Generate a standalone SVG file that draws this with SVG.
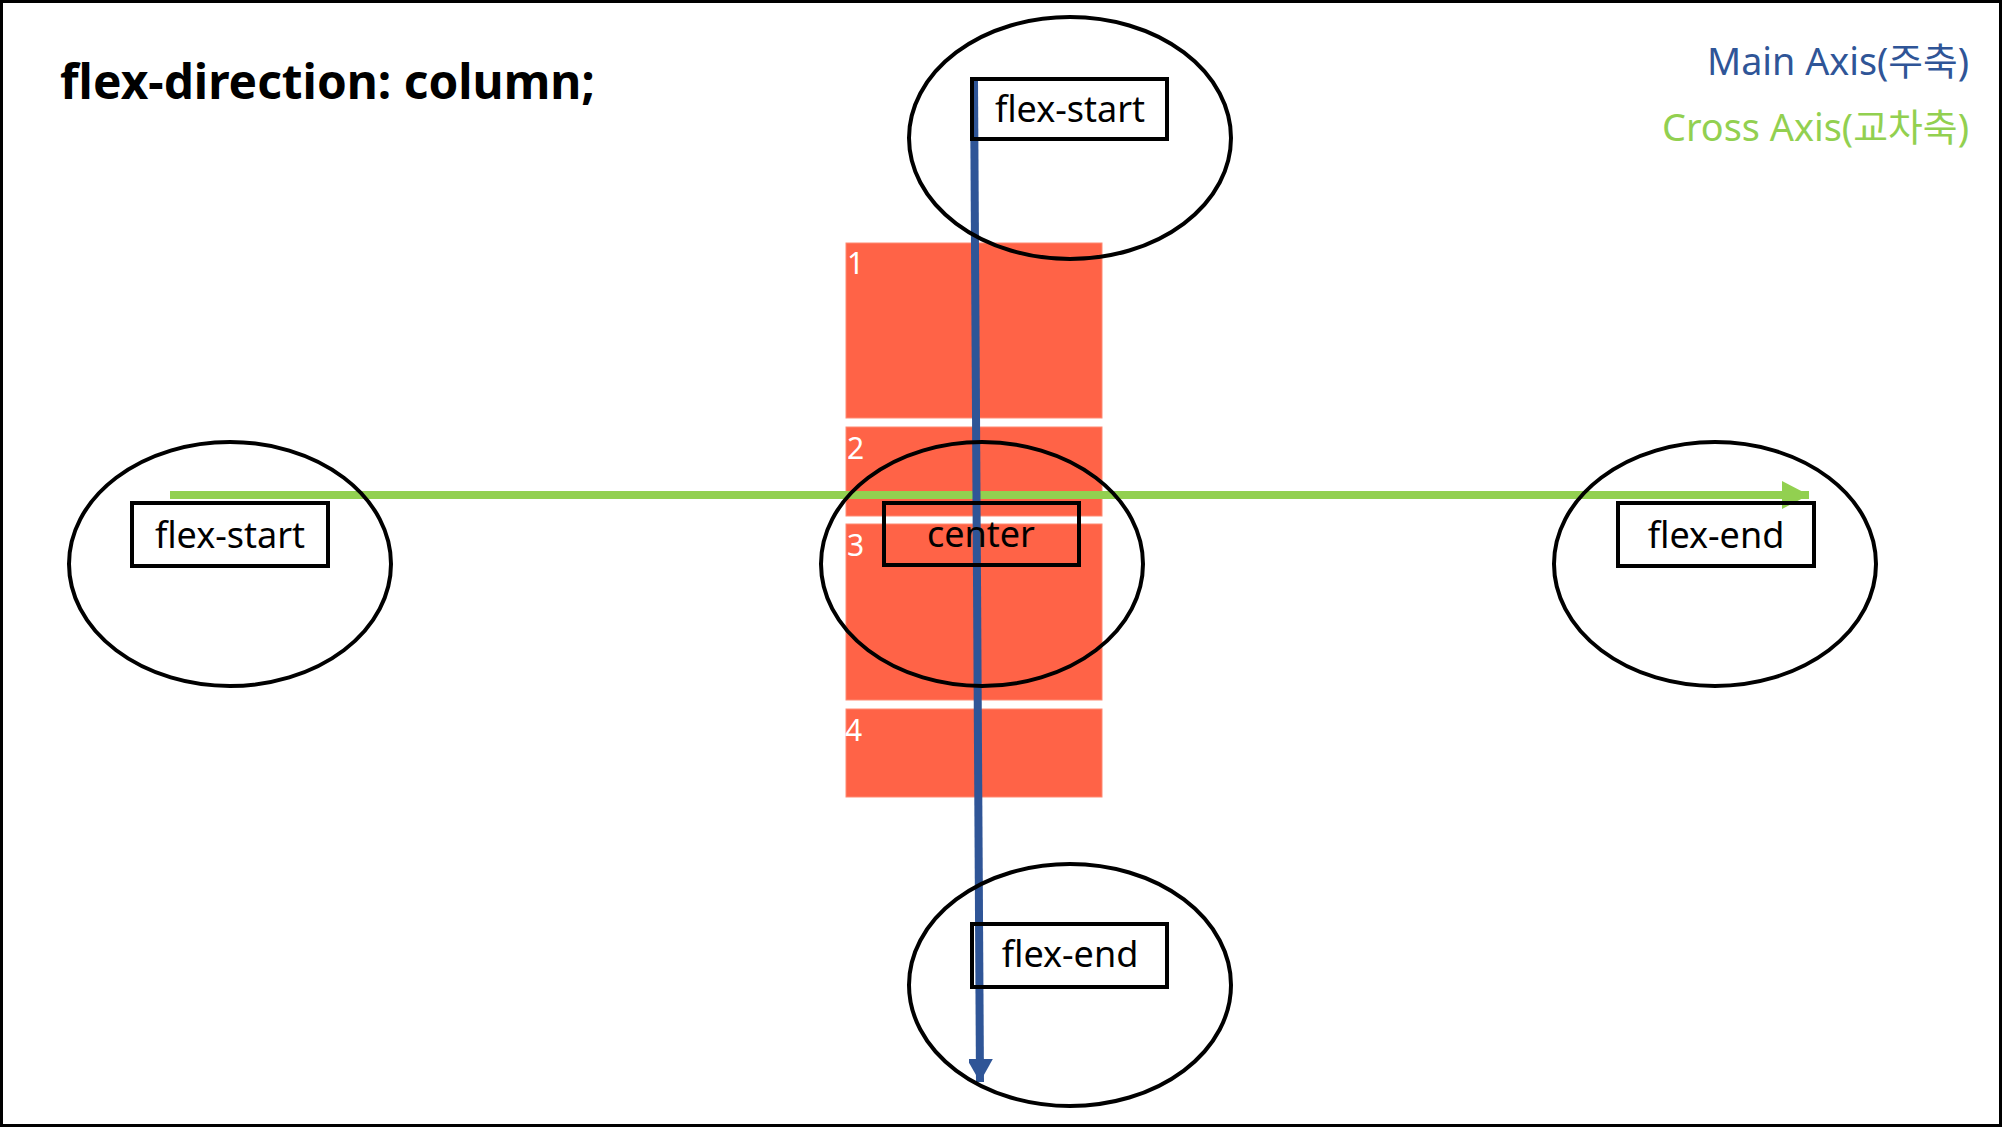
<svg xmlns="http://www.w3.org/2000/svg" width="2002" height="1127" viewBox="0 0 2002 1127">
<style>
.box{fill:#FF6347;stroke:#FF8A73;stroke-width:1}
.num{font-family:"Noto Sans","Liberation Sans",sans-serif;font-size:30px;fill:#FFFFFF}
.ell{fill:none;stroke:#000;stroke-width:4}
.lbl{fill:none;stroke:#000;stroke-width:4}
.lt{font-family:"Noto Sans","Liberation Sans",sans-serif;font-size:36px;fill:#000;text-anchor:middle}
.leg{font-family:"Noto Sans","Noto Sans CJK KR",sans-serif;font-size:38px;text-anchor:end}
</style>
<defs>
<marker id="ab" markerUnits="userSpaceOnUse" markerWidth="26" markerHeight="24" refX="23" refY="13" orient="auto">
<path d="M0,0 L23,13 L0,26 Z" fill="#2F5597"/>
</marker>
<marker id="ag" markerUnits="userSpaceOnUse" markerWidth="28" markerHeight="28" refX="27" refY="14" orient="auto">
<path d="M0,0 L27,14 L0,28 Z" fill="#92D050"/>
</marker>
</defs>
<rect x="0" y="0" width="2002" height="1127" fill="#FFFFFF"/>
<rect x="1.5" y="1.5" width="1999" height="1124" fill="none" stroke="#000" stroke-width="3"/>
<text x="60" y="99" font-family="'Noto Sans','Liberation Sans',sans-serif" font-weight="bold" font-size="48" textLength="535" lengthAdjust="spacingAndGlyphs">flex-direction: column;</text>
<g id="legend">
<text class="leg" x="1969" y="75" fill="#2F5597" textLength="262" lengthAdjust="spacingAndGlyphs">Main Axis(주축)</text>
<text class="leg" x="1969" y="141" fill="#92D050" textLength="307" lengthAdjust="spacingAndGlyphs">Cross Axis(교차축)</text>
</g>
<g id="items">
<g id="item1"><rect class="box" x="846" y="243" width="256" height="175"/><text class="num" x="847" y="274">1</text></g>
<g id="item2"><rect class="box" x="846" y="427" width="256" height="89"/><text class="num" x="847" y="459">2</text></g>
<g id="item3"><rect class="box" x="846" y="524" width="256" height="176"/><text class="num" x="847" y="556">3</text></g>
<g id="item4"><rect class="box" x="846" y="709" width="256" height="88"/><text class="num" x="845" y="741">4</text></g>
</g>
<g id="connectors">
<line x1="170" y1="495" x2="1809" y2="495" stroke="#92D050" stroke-width="8" marker-end="url(#ag)"/>
<line x1="974" y1="80" x2="980" y2="1082" stroke="#2F5597" stroke-width="8" marker-end="url(#ab)"/>
</g>
<g id="main-start">
<ellipse class="ell" cx="1070" cy="138" rx="161" ry="121"/>
<rect class="lbl" x="972" y="79" width="195" height="60"/>
<text class="lt" x="1070" y="122">flex-start</text>
</g>
<g id="main-end">
<ellipse class="ell" cx="1070" cy="985" rx="161" ry="121"/>
<rect class="lbl" x="972" y="924" width="195" height="63"/>
<text class="lt" x="1070" y="967">flex-end</text>
</g>
<g id="cross-start">
<ellipse class="ell" cx="230" cy="564" rx="161" ry="122"/>
<rect class="lbl" x="132" y="503" width="196" height="63"/>
<text class="lt" x="230" y="548">flex-start</text>
</g>
<g id="cross-center">
<ellipse class="ell" cx="982" cy="564" rx="161" ry="122"/>
<rect class="lbl" x="884" y="503" width="195" height="62"/>
<text class="lt" x="981" y="547">center</text>
</g>
<g id="cross-end">
<ellipse class="ell" cx="1715" cy="564" rx="161" ry="122"/>
<rect class="lbl" x="1618" y="503" width="196" height="63"/>
<text class="lt" x="1716" y="548">flex-end</text>
</g>
</svg>
